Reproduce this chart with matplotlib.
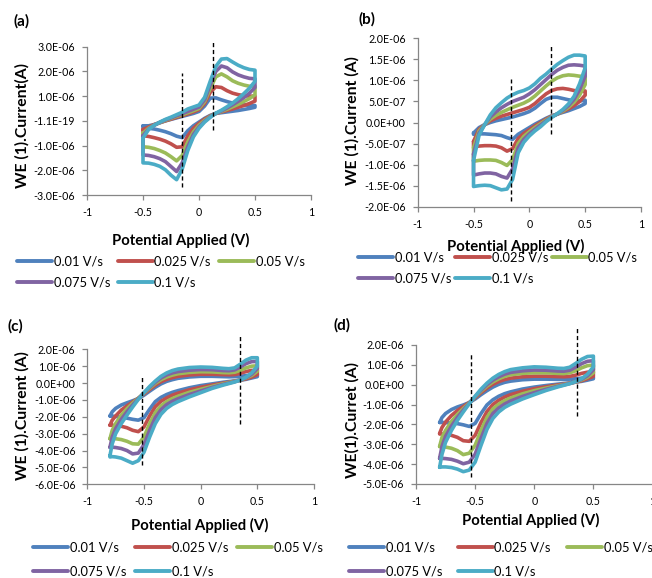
import numpy as np
import matplotlib
matplotlib.use('Agg')
import matplotlib.pyplot as plt
from matplotlib.ticker import FixedLocator, FixedFormatter
from matplotlib.font_manager import FontProperties

FAMILY = ['Lato', 'DejaVu Sans']
plt.rcParams['font.family'] = FAMILY

# ---------------- data (currents in microamps) ----------------
series_labels = ['0.01 V/s', '0.025 V/s', '0.05 V/s', '0.075 V/s', '0.1 V/s']
colors = ['#4F81BD', '#C0504D', '#9BBB59', '#8064A2', '#4BACC6']
x_ticks = [-1, -0.5, 0, 0.5, 1]
x_tick_labels = ['-1', '-0.5', '0', '0.5', '1']

# Panel (a)
E_a = [-0.5, -0.45, -0.4, -0.35, -0.3, -0.25, -0.2, -0.15, -0.1, -0.05, 0.0,
       0.05, 0.1, 0.15, 0.2, 0.25, 0.3, 0.35, 0.4, 0.45, 0.5]
a_up_1 = [-0.2, -0.2, -0.15, -0.08, 0.0, 0.06, 0.12, 0.18, 0.24, 0.3, 0.38, 0.6, 0.92, 0.93, 0.85, 0.78, 0.72, 0.68, 0.65, 0.62, 0.62]
a_dn_1 = [-0.28, -0.3, -0.33, -0.38, -0.44, -0.52, -0.62, -0.68, -0.4, -0.2, -0.05, 0.1, 0.22, 0.3, 0.33, 0.36, 0.39, 0.42, 0.46, 0.5, 0.55]
a_up_2 = [-0.35, -0.25, -0.15, -0.07, 0.0, 0.07, 0.14, 0.21, 0.28, 0.36, 0.45, 0.7, 1.15, 1.38, 1.35, 1.22, 1.12, 1.06, 1.02, 1.0, 1.0]
a_dn_2 = [-0.6, -0.63, -0.68, -0.74, -0.82, -0.93, -1.07, -1.05, -0.6, -0.3, -0.1, 0.07, 0.2, 0.3, 0.36, 0.42, 0.48, 0.55, 0.62, 0.7, 0.8]
a_up_3 = [-0.5, -0.3, -0.17, -0.07, 0.02, 0.1, 0.18, 0.25, 0.33, 0.41, 0.5, 0.78, 1.3, 1.78, 1.9, 1.78, 1.62, 1.52, 1.45, 1.4, 1.4]
a_dn_3 = [-1.05, -1.07, -1.12, -1.2, -1.3, -1.45, -1.62, -1.4, -0.85, -0.45, -0.18, 0.02, 0.18, 0.3, 0.38, 0.47, 0.57, 0.67, 0.78, 0.9, 1.05]
a_up_4 = [-0.6, -0.33, -0.18, -0.06, 0.04, 0.12, 0.21, 0.29, 0.38, 0.47, 0.56, 0.85, 1.45, 2.0, 2.22, 2.15, 1.98, 1.86, 1.78, 1.72, 1.7]
a_dn_4 = [-1.38, -1.4, -1.45, -1.53, -1.65, -1.85, -2.05, -1.7, -1.05, -0.55, -0.25, -0.02, 0.16, 0.3, 0.4, 0.52, 0.65, 0.79, 0.94, 1.12, 1.35]
a_up_5 = [-0.7, -0.35, -0.18, -0.05, 0.06, 0.15, 0.25, 0.35, 0.48, 0.56, 0.64, 0.95, 1.6, 2.2, 2.5, 2.52, 2.38, 2.25, 2.15, 2.08, 2.05]
a_dn_5 = [-1.7, -1.71, -1.76, -1.84, -1.98, -2.2, -2.38, -1.95, -1.2, -0.65, -0.3, -0.05, 0.14, 0.31, 0.43, 0.57, 0.72, 0.9, 1.1, 1.32, 1.6]
a_yticks = [-3, -2, -1, 0, 1, 2, 3]
a_ytick_labels = ['-3.0E-06', '-2.0E-06', '-1.0E-06', '-1.1E-19', '1.0E-06', '2.0E-06', '3.0E-06']
a_dash_x = [-0.15, 0.125]
a_dash_lo = [-2.68, -0.37]
a_dash_hi = [1.95, 3.2]

# Panel (b)
E_b = E_a
b_up_1 = [-0.25, -0.12, -0.05, 0.0, 0.04, 0.07, 0.1, 0.13, 0.17, 0.21, 0.26, 0.34, 0.45, 0.55, 0.6, 0.6, 0.57, 0.54, 0.52, 0.51, 0.53]
b_dn_1 = [-0.28, -0.27, -0.27, -0.28, -0.29, -0.31, -0.36, -0.4, -0.28, -0.2, -0.12, -0.04, 0.03, 0.1, 0.16, 0.2, 0.24, 0.28, 0.33, 0.38, 0.45]
b_up_2 = [-0.45, -0.16, -0.05, 0.04, 0.1, 0.15, 0.19, 0.23, 0.27, 0.31, 0.36, 0.45, 0.57, 0.68, 0.76, 0.8, 0.81, 0.79, 0.76, 0.74, 0.75]
b_dn_2 = [-0.58, -0.56, -0.55, -0.55, -0.56, -0.6, -0.68, -0.62, -0.38, -0.26, -0.17, -0.08, 0.0, 0.08, 0.15, 0.2, 0.26, 0.32, 0.4, 0.5, 0.65]
b_up_3 = [-0.6, -0.2, -0.05, 0.08, 0.17, 0.24, 0.3, 0.36, 0.41, 0.46, 0.53, 0.63, 0.75, 0.87, 0.98, 1.06, 1.11, 1.13, 1.12, 1.1, 1.09]
b_dn_3 = [-0.92, -0.9, -0.89, -0.89, -0.9, -0.95, -1.02, -0.88, -0.5, -0.33, -0.22, -0.12, -0.03, 0.06, 0.14, 0.2, 0.27, 0.36, 0.48, 0.65, 0.9]
b_up_4 = [-0.75, -0.25, -0.05, 0.13, 0.25, 0.35, 0.43, 0.5, 0.55, 0.6, 0.68, 0.78, 0.9, 1.02, 1.14, 1.24, 1.31, 1.36, 1.37, 1.36, 1.34]
b_dn_4 = [-1.25, -1.22, -1.2, -1.2, -1.22, -1.28, -1.32, -1.1, -0.6, -0.4, -0.27, -0.16, -0.06, 0.04, 0.13, 0.2, 0.29, 0.4, 0.55, 0.78, 1.1]
b_up_5 = [-0.9, -0.3, -0.05, 0.18, 0.35, 0.47, 0.58, 0.66, 0.72, 0.76, 0.82, 0.92, 1.05, 1.15, 1.27, 1.38, 1.47, 1.55, 1.6, 1.6, 1.58]
b_dn_5 = [-1.52, -1.5, -1.49, -1.5, -1.55, -1.6, -1.58, -1.35, -0.72, -0.47, -0.32, -0.2, -0.1, 0.02, 0.12, 0.21, 0.31, 0.44, 0.62, 0.92, 1.3]
b_yticks = [-2.0, -1.5, -1.0, -0.5, 0.0, 0.5, 1.0, 1.5, 2.0]
b_ytick_labels = ['-2.0E-06', '-1.5E-06', '-1.0E-06', '-5.0E-07', '0.0E+00', '5.0E-07', '1.0E-06', '1.5E-06', '2.0E-06']
b_dash_x = [-0.164, 0.196]
b_dash_lo = [-1.87, -0.28]
b_dash_hi = [1.03, 1.87]

# Panel (c)
E_c = [-0.8, -0.78, -0.75, -0.7, -0.65, -0.6, -0.55, -0.5, -0.45, -0.4, -0.35, -0.3,
       -0.25, -0.2, -0.1, 0.0, 0.1, 0.2, 0.25, 0.3, 0.35, 0.4, 0.45, 0.5]
c_up_1 = [-1.95, -1.7, -1.5, -1.3, -1.17, -1.05, -0.92, -0.72, -0.48, -0.25, -0.05, 0.1, 0.2, 0.28, 0.36, 0.4, 0.4, 0.38, 0.37, 0.38, 0.4, 0.44, 0.48, 0.5]
c_dn_1 = [-1.95, -1.96, -1.98, -2.02, -2.08, -2.15, -2.2, -2.05, -1.55, -1.1, -0.85, -0.68, -0.55, -0.45, -0.28, -0.15, -0.05, 0.05, 0.09, 0.13, 0.17, 0.22, 0.3, 0.38]
c_up_2 = [-2.5, -2.2, -1.95, -1.6, -1.35, -1.12, -0.9, -0.65, -0.38, -0.12, 0.08, 0.22, 0.32, 0.4, 0.48, 0.52, 0.52, 0.5, 0.49, 0.5, 0.58, 0.68, 0.75, 0.75]
c_dn_2 = [-2.5, -2.5, -2.52, -2.56, -2.65, -2.8, -2.88, -2.6, -1.95, -1.4, -1.08, -0.88, -0.72, -0.6, -0.4, -0.25, -0.12, 0.0, 0.05, 0.11, 0.17, 0.25, 0.35, 0.5]
c_up_3 = [-3.3, -2.8, -2.4, -1.9, -1.52, -1.2, -0.9, -0.6, -0.3, -0.02, 0.2, 0.36, 0.47, 0.55, 0.63, 0.67, 0.66, 0.62, 0.61, 0.64, 0.75, 0.9, 1.0, 1.02]
c_dn_3 = [-3.3, -3.28, -3.3, -3.35, -3.45, -3.6, -3.62, -3.2, -2.4, -1.75, -1.35, -1.1, -0.92, -0.78, -0.55, -0.37, -0.2, -0.04, 0.03, 0.1, 0.18, 0.3, 0.45, 0.7]
c_up_4 = [-3.8, -3.2, -2.7, -2.15, -1.7, -1.3, -0.93, -0.58, -0.25, 0.05, 0.3, 0.48, 0.6, 0.68, 0.76, 0.8, 0.79, 0.74, 0.73, 0.78, 0.95, 1.15, 1.27, 1.28]
c_dn_4 = [-3.82, -3.8, -3.82, -3.88, -4.0, -4.2, -4.15, -3.65, -2.8, -2.05, -1.58, -1.28, -1.08, -0.93, -0.68, -0.47, -0.26, -0.08, 0.0, 0.08, 0.18, 0.32, 0.52, 0.85]
c_up_5 = [-4.3, -3.6, -3.0, -2.4, -1.9, -1.42, -0.97, -0.57, -0.2, 0.12, 0.4, 0.6, 0.74, 0.83, 0.92, 0.95, 0.93, 0.87, 0.85, 0.9, 1.12, 1.36, 1.5, 1.5]
c_dn_5 = [-4.38, -4.36, -4.38, -4.45, -4.6, -4.75, -4.6, -4.1, -3.2, -2.4, -1.85, -1.5, -1.27, -1.1, -0.82, -0.57, -0.32, -0.12, -0.03, 0.06, 0.18, 0.35, 0.6, 1.0]
c_yticks = [-6, -5, -4, -3, -2, -1, 0, 1, 2]
c_ytick_labels = ['-6.0E-06', '-5.0E-06', '-4.0E-06', '-3.0E-06', '-2.0E-06', '-1.0E-06', '0.0E+00', '1.0E-06', '2.0E-06']
c_dash_x = [-0.52, 0.344]
c_dash_lo = [-4.88, -2.41]
c_dash_hi = [0.4, 2.92]

# Panel (d)
E_d = E_c
d_up_1 = [-1.9, -1.65, -1.45, -1.25, -1.12, -1.02, -0.9, -0.72, -0.5, -0.3, -0.12, 0.02, 0.12, 0.18, 0.25, 0.28, 0.28, 0.27, 0.27, 0.28, 0.3, 0.33, 0.36, 0.38]
d_dn_1 = [-1.9, -1.9, -1.91, -1.93, -1.96, -2.02, -2.1, -1.95, -1.45, -1.02, -0.76, -0.58, -0.45, -0.36, -0.22, -0.12, -0.04, 0.03, 0.06, 0.09, 0.13, 0.17, 0.23, 0.3]
d_up_2 = [-2.45, -2.15, -1.88, -1.55, -1.3, -1.1, -0.9, -0.66, -0.4, -0.17, 0.02, 0.16, 0.26, 0.33, 0.4, 0.43, 0.43, 0.41, 0.4, 0.42, 0.48, 0.57, 0.63, 0.65]
d_dn_2 = [-2.48, -2.48, -2.5, -2.55, -2.65, -2.82, -2.85, -2.55, -1.9, -1.35, -1.0, -0.78, -0.62, -0.5, -0.33, -0.2, -0.1, -0.01, 0.03, 0.08, 0.13, 0.2, 0.3, 0.42]
d_up_3 = [-3.1, -2.65, -2.3, -1.85, -1.5, -1.2, -0.92, -0.62, -0.33, -0.07, 0.14, 0.3, 0.42, 0.5, 0.57, 0.6, 0.6, 0.57, 0.56, 0.6, 0.7, 0.85, 0.96, 0.99]
d_dn_3 = [-3.12, -3.12, -3.14, -3.2, -3.32, -3.52, -3.45, -3.05, -2.3, -1.65, -1.22, -0.98, -0.8, -0.67, -0.46, -0.3, -0.17, -0.05, 0.01, 0.07, 0.14, 0.24, 0.38, 0.6]
d_up_4 = [-3.7, -3.1, -2.6, -2.08, -1.65, -1.28, -0.94, -0.6, -0.28, 0.0, 0.23, 0.4, 0.53, 0.62, 0.7, 0.74, 0.73, 0.69, 0.68, 0.73, 0.88, 1.06, 1.18, 1.21]
d_dn_4 = [-3.72, -3.71, -3.72, -3.76, -3.85, -3.98, -3.9, -3.5, -2.7, -1.95, -1.45, -1.17, -0.97, -0.82, -0.59, -0.4, -0.23, -0.08, -0.01, 0.06, 0.15, 0.27, 0.45, 0.75]
d_up_5 = [-4.15, -3.5, -2.9, -2.3, -1.8, -1.37, -0.96, -0.58, -0.22, 0.08, 0.33, 0.52, 0.66, 0.76, 0.85, 0.9, 0.88, 0.83, 0.82, 0.88, 1.07, 1.28, 1.42, 1.44]
d_dn_5 = [-4.16, -4.14, -4.14, -4.17, -4.25, -4.38, -4.3, -3.9, -3.05, -2.25, -1.7, -1.37, -1.14, -0.98, -0.72, -0.5, -0.29, -0.11, -0.03, 0.05, 0.16, 0.3, 0.53, 0.9]
d_yticks = [-5, -4, -3, -2, -1, 0, 1, 2]
d_ytick_labels = ['-5.0E-06', '-4.0E-06', '-3.0E-06', '-2.0E-06', '-1.0E-06', '0.0E+00', '1.0E-06', '2.0E-06']
d_dash_x = [-0.534, 0.36]
d_dash_lo = [-4.63, -1.58]
d_dash_hi = [1.58, 2.92]

# ---------------- figure ----------------
W, H = 652, 578
fig = plt.figure(figsize=(W / 100, H / 100), dpi=100)
renderer = fig.canvas.get_renderer()
AX_COLOR = '#868686'


def text_w(s, size, weight='normal'):
    fp = FontProperties(family=FAMILY, size=size, weight=weight)
    w, h, d = renderer.get_text_width_height_descent(s, fp, ismath=False)
    return w


def fit_size(s, target_px, weight='normal'):
    return 10.0 * target_px / text_w(s, 10.0, weight)


LEG_FS = fit_size('0.075 V/s', 56.0)
LEG_PX = LEG_FS * 100 / 72.0
TICK_FS = fit_size('-1.0E-06', 41.0)
XLAB_FS = fit_size('Potential Applied (V)', 137.0, 'bold')
YLAB_FS = fit_size('WE (1).Current(A)', 125.0, 'bold')
HANDLE_PX = 35.0
PAD_PX = 1.5


def make_axes(x0, x1, ytop, ybot):
    return fig.add_axes([x0 / W, 1 - ybot / H, (x1 - x0) / W, (ybot - ytop) / H])


def draw_panel(ax, E, ups, dns, yticks, ylabels, dash_x, dash_lo, dash_hi):
    E = np.asarray(E)
    handles = []
    for up, dn, col, lab in zip(ups, dns, colors, series_labels):
        up = np.asarray(up)
        dn = np.asarray(dn)
        xs = np.concatenate([E, E[::-1], E[:1]])
        ys = np.concatenate([up, dn[::-1], up[:1]]) * 1e-6
        h, = ax.plot(xs, ys, color=col, lw=2.6, solid_joinstyle='round',
                     solid_capstyle='round', label=lab)
        handles.append(h)
    for xv, lo, hi in zip(dash_x, dash_lo, dash_hi):
        ax.plot([xv, xv], [lo * 1e-6, hi * 1e-6], color='black', lw=1.0,
                dashes=(3.0, 2.0), clip_on=False, zorder=5)
    ax.set_xlim(-1, 1)
    yt = np.asarray(yticks) * 1e-6
    ax.set_ylim(yt[0], yt[-1])
    ax.xaxis.set_major_locator(FixedLocator(x_ticks))
    ax.xaxis.set_major_formatter(FixedFormatter(x_tick_labels))
    ax.yaxis.set_major_locator(FixedLocator(yt))
    ax.yaxis.set_major_formatter(FixedFormatter(ylabels))
    for s in ['top', 'right']:
        ax.spines[s].set_visible(False)
    for s in ['left', 'bottom']:
        ax.spines[s].set_color(AX_COLOR)
        ax.spines[s].set_linewidth(0.9)
    ax.tick_params(axis='both', direction='out', length=3.5, width=0.9,
                   color=AX_COLOR, labelsize=TICK_FS, pad=5.0, labelcolor='black')
    ax.patch.set_alpha(0)
    return handles


def add_legend(ax, handles, col_x, row_y):
    # column spacing such that column 2 starts at col_x[1]
    w1 = max(text_w(series_labels[0], LEG_FS), text_w(series_labels[3], LEG_FS))
    colsp_px = (col_x[1] - col_x[0]) - (HANDLE_PX + PAD_PX + w1)
    txt_h = LEG_PX * 1.02
    rowsp = ((row_y[1] - row_y[0]) - txt_h) / LEG_PX
    order = [0, 3, 1, 4, 2]
    leg = ax.legend([handles[i] for i in order], [series_labels[i] for i in order],
                    ncol=3, loc='upper left',
                    bbox_to_anchor=(col_x[0] / W, 1 - (row_y[0] - txt_h / 2) / H),
                    bbox_transform=fig.transFigure, frameon=False, fontsize=LEG_FS,
                    handlelength=HANDLE_PX / LEG_PX, handletextpad=PAD_PX / LEG_PX,
                    columnspacing=colsp_px / LEG_PX,
                    borderpad=0, borderaxespad=0, labelspacing=rowsp)
    for ln in leg.get_lines():
        ln.set_linewidth(2.8)
    return leg


panels = [
    dict(box=(87, 311, 46.7, 195), E=E_a,
         ups=[a_up_1, a_up_2, a_up_3, a_up_4, a_up_5],
         dns=[a_dn_1, a_dn_2, a_dn_3, a_dn_4, a_dn_5],
         yt=a_yticks, yl=a_ytick_labels, dx=a_dash_x, dlo=a_dash_lo, dhi=a_dash_hi,
         tag='(a)', tag_xy=(14, 21), ylab='WE (1).Current(A)', ylab_xy=(22.5, 125),
         xlab_xy=(181, 240), col_x=(17, 118), row_y=(262, 284)),
    dict(box=(417.7, 641, 38.3, 206.7), E=E_b,
         ups=[b_up_1, b_up_2, b_up_3, b_up_4, b_up_5],
         dns=[b_dn_1, b_dn_2, b_dn_3, b_dn_4, b_dn_5],
         yt=b_yticks, yl=b_ytick_labels, dx=b_dash_x, dlo=b_dash_lo, dhi=b_dash_hi,
         tag='(b)', tag_xy=(358, 19), ylab='WE (1).Current (A)', ylab_xy=(352.5, 121),
         xlab_xy=(516, 246), col_x=(358, 455), row_y=(258, 280)),
    dict(box=(87.3, 314, 349.3, 484.3), E=E_c,
         ups=[c_up_1, c_up_2, c_up_3, c_up_4, c_up_5],
         dns=[c_dn_1, c_dn_2, c_dn_3, c_dn_4, c_dn_5],
         yt=c_yticks, yl=c_ytick_labels, dx=c_dash_x, dlo=c_dash_lo, dhi=c_dash_hi,
         tag='(c)', tag_xy=(8, 326), ylab='WE (1).Current (A)', ylab_xy=(22.5, 416),
         xlab_xy=(200, 525), col_x=(33, 135), row_y=(548, 573)),
    dict(box=(416, 652.5, 345, 484), E=E_d,
         ups=[d_up_1, d_up_2, d_up_3, d_up_4, d_up_5],
         dns=[d_dn_1, d_dn_2, d_dn_3, d_dn_4, d_dn_5],
         yt=d_yticks, yl=d_ytick_labels, dx=d_dash_x, dlo=d_dash_lo, dhi=d_dash_hi,
         tag='(d)', tag_xy=(334, 325), ylab='WE(1).Curret (A)', ylab_xy=(352.5, 420),
         xlab_xy=(531, 520), col_x=(349, 458), row_y=(548, 573)),
]

for p in panels:
    x0, x1, yt_, yb_ = p['box']
    ax = make_axes(x0, x1, yt_, yb_)
    hs = draw_panel(ax, p['E'], p['ups'], p['dns'], p['yt'], p['yl'],
                    p['dx'], p['dlo'], p['dhi'])
    add_legend(ax, hs, p['col_x'], p['row_y'])
    tx, ty = p['tag_xy']
    fig.text(tx / W, 1 - ty / H, p['tag'], fontsize=11, fontweight='bold',
             ha='left', va='center')
    lx, ly = p['ylab_xy']
    fig.text(lx / W, 1 - ly / H, p['ylab'], fontsize=YLAB_FS, fontweight='bold',
             rotation=90, ha='center', va='center')
    xx, xy = p['xlab_xy']
    fig.text(xx / W, 1 - xy / H, 'Potential Applied (V)', fontsize=XLAB_FS,
             fontweight='bold', ha='center', va='center')

fig.savefig('out.png', dpi=100)
